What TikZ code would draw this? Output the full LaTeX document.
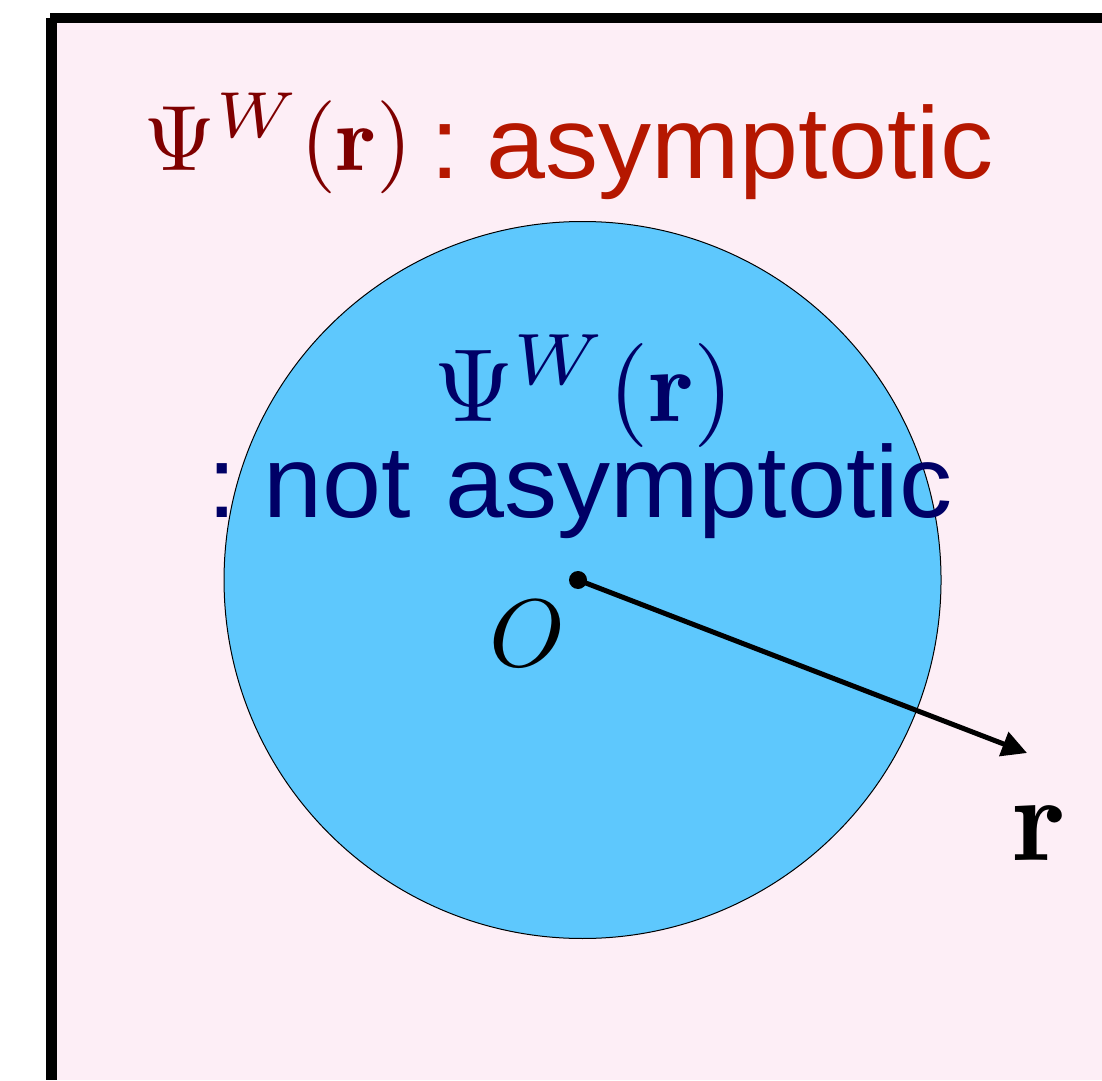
\documentclass[tikz,border=0pt]{standalone}
\usepackage{fontspec}
\newfontfamily\labelsans{Liberation Sans}
\usetikzlibrary{arrows.meta}
\definecolor{pinkbg}{RGB}{253,238,246}
\definecolor{bluefill}{RGB}{94,200,253}
\definecolor{darkred}{RGB}{127,0,0}
\definecolor{textred}{RGB}{181,23,0}
\definecolor{navy}{RGB}{0,0,102}
\newcommand{\colonsep}{:\kern2.6pt}
\begin{document}
\begin{tikzpicture}[x=0.1pt,y=-0.1pt,
  mathlbl/.style={inner sep=0pt,anchor=base west},
  txtlbl/.style={inner sep=0pt,anchor=base west,xscale=1.04,font=\labelsans\fontsize{10.2pt}{12pt}\selectfont},
  framebar/.style={line cap=butt}]
\useasboundingbox (0,0) rectangle (1102,1080);
% background panel
\fill[pinkbg] (51,18) rectangle (1102,1080);
\draw[framebar,line width=1pt] (50,18) -- (1102,18);
\draw[framebar,line width=1.1pt] (51.5,18) -- (51.5,1080);
% region circle
\node[circle,draw=black,line width=0.1pt,fill=bluefill,minimum size=71.7pt,inner sep=0pt] (region) at (582.5,580) {};
% title
\node[mathlbl,scale=0.93,text=darkred] (titlemath) at (142,171) {$\Psi^{W}(\mathbf{r})$};
\node[txtlbl,text=textred] (titletext) at (428,179) {\colonsep asymptotic};
% inner labels
\node[mathlbl,scale=1.04,text=navy] (innermath) at (431,422) {$\Psi^{W}(\mathbf{r})$};
\node[txtlbl,text=navy] (innertext) at (205,518) {\colonsep not\kern3.3pt asymptotic};
% origin and vector
\node[mathlbl,scale=0.96] (Olbl) at (488,666) {$O$};
\node[circle,fill=black,minimum size=1.8pt,inner sep=0pt] (origin) at (578,580) {};
\coordinate (tip) at (1027,753);
\draw[line width=0.5pt,-{Triangle[length=2.5pt,width=2.5pt]}] (origin.center) -- (tip);
\node[mathlbl,scale=1.22] (rlbl) at (1011,860) {$\mathbf{r}$};
\end{tikzpicture}
\end{document}
